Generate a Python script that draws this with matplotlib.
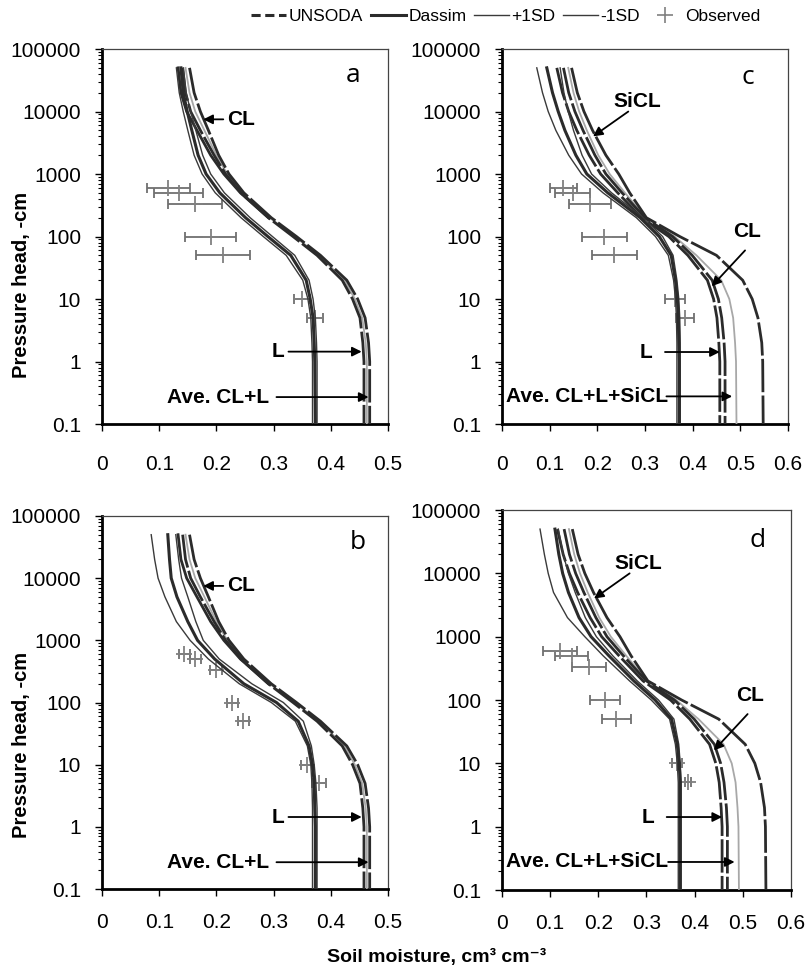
import matplotlib.pyplot as plt
from matplotlib.lines import Line2D
from matplotlib.ticker import LogLocator, FuncFormatter, NullFormatter

plt.rcParams['font.family'] = ['Liberation Sans', 'DejaVu Sans']

# pressure heads (cm) for every curve, dry end first
h = [50000, 20000, 10000, 5000, 2000, 1000, 500, 200, 100, 50, 20, 10, 5, 2, 1, 0.1]

# UNSODA curves used in a and b
uns_cl_ab = [0.153, 0.161, 0.172, 0.186, 0.204, 0.222, 0.248, 0.296, 0.340, 0.382, 0.428, 0.447, 0.460, 0.466, 0.468, 0.468]
uns_l_ab = [0.141, 0.146, 0.155, 0.172, 0.196, 0.216, 0.243, 0.291, 0.334, 0.376, 0.420, 0.438, 0.451, 0.456, 0.458, 0.458]
uns_ave_ab = [0.146, 0.153, 0.163, 0.179, 0.200, 0.219, 0.245, 0.293, 0.337, 0.379, 0.424, 0.442, 0.455, 0.461, 0.463, 0.463]
dassim_cl_ab = [0.133, 0.138, 0.148, 0.166, 0.190, 0.213, 0.242, 0.291]  # dry part only (50000..200)

# UNSODA curves used in c and d
uns_sicl_cd = [0.146, 0.158, 0.172, 0.190, 0.218, 0.245, 0.268, 0.303, 0.373, 0.450, 0.505, 0.525, 0.537, 0.545, 0.547, 0.548]
uns_cl_cd = [0.129, 0.140, 0.153, 0.170, 0.195, 0.218, 0.252, 0.300, 0.358, 0.399, 0.441, 0.454, 0.461, 0.466, 0.468, 0.468]
uns_l_cd = [0.115, 0.127, 0.140, 0.157, 0.183, 0.207, 0.243, 0.293, 0.350, 0.390, 0.431, 0.444, 0.451, 0.455, 0.457, 0.457]
uns_ave_cd = [0.139, 0.150, 0.162, 0.178, 0.202, 0.226, 0.258, 0.302, 0.362, 0.408, 0.460, 0.477, 0.485, 0.489, 0.491, 0.492]

# Dassim estimates with +/- 1 SD
dassim_a = [0.138, 0.142, 0.149, 0.157, 0.168, 0.182, 0.206, 0.251, 0.290, 0.330, 0.357, 0.364, 0.369, 0.371, 0.372, 0.373]
lo_a = [0.130, 0.135, 0.142, 0.150, 0.161, 0.175, 0.198, 0.243, 0.282, 0.322, 0.351, 0.360, 0.365, 0.367, 0.368, 0.368]
hi_a = [0.142, 0.147, 0.155, 0.164, 0.176, 0.190, 0.214, 0.259, 0.298, 0.337, 0.362, 0.369, 0.373, 0.375, 0.376, 0.376]

dassim_b = [0.115, 0.118, 0.121, 0.131, 0.150, 0.167, 0.197, 0.248, 0.305, 0.343, 0.362, 0.368, 0.371, 0.372, 0.373, 0.373]
lo_b = [0.086, 0.092, 0.098, 0.110, 0.130, 0.154, 0.186, 0.240, 0.296, 0.338, 0.359, 0.365, 0.367, 0.368, 0.368, 0.368]
hi_b = [0.129, 0.134, 0.139, 0.150, 0.164, 0.177, 0.205, 0.262, 0.317, 0.352, 0.366, 0.371, 0.374, 0.376, 0.376, 0.376]

dassim_c = [0.094, 0.106, 0.118, 0.132, 0.155, 0.178, 0.222, 0.290, 0.330, 0.355, 0.364, 0.368, 0.370, 0.371, 0.372, 0.372]
lo_c = [0.073, 0.085, 0.097, 0.113, 0.140, 0.167, 0.212, 0.282, 0.322, 0.349, 0.360, 0.364, 0.366, 0.367, 0.367, 0.367]
hi_c = [0.122, 0.130, 0.139, 0.150, 0.168, 0.188, 0.230, 0.296, 0.337, 0.359, 0.367, 0.371, 0.373, 0.374, 0.374, 0.374]

dassim_d = [0.110, 0.118, 0.126, 0.138, 0.160, 0.185, 0.222, 0.274, 0.318, 0.352, 0.364, 0.368, 0.370, 0.370, 0.370, 0.370]
lo_d = [0.079, 0.088, 0.096, 0.107, 0.136, 0.172, 0.210, 0.265, 0.310, 0.348, 0.360, 0.364, 0.366, 0.366, 0.366, 0.366]
hi_d = [0.117, 0.127, 0.138, 0.152, 0.173, 0.196, 0.230, 0.281, 0.325, 0.357, 0.367, 0.370, 0.372, 0.372, 0.372, 0.372]

# observed moisture (mean and SD) at measured heads
obs_h = [600, 500, 330, 100, 50, 10, 5]
obs_a = [0.116, 0.134, 0.163, 0.190, 0.211, 0.349, 0.372]
err_a = [0.037, 0.043, 0.047, 0.045, 0.047, 0.014, 0.014]
obs_b = [0.144, 0.163, 0.199, 0.228, 0.247, 0.358, 0.380]
err_b = [0.010, 0.010, 0.010, 0.010, 0.010, 0.010, 0.012]
obs_c = [0.129, 0.148, 0.185, 0.215, 0.236, 0.363, 0.384]
err_c = [0.029, 0.037, 0.044, 0.047, 0.047, 0.022, 0.019]
obs_d = [0.120, 0.145, 0.181, 0.214, 0.237, 0.363, 0.387]
err_d = [0.035, 0.034, 0.035, 0.031, 0.030, 0.010, 0.006]

DARK = '#2b2b2b'
THIN = '#3a3a3a'
GREY = '#a8a8a8'
OBS = '#808080'


def setup_axes(ax, xmax, xpad):
    ax.set_yscale('log')
    ax.set_ylim(0.1, 100000)
    ax.set_xlim(0, xmax)
    ax.set_xticks([i / 10 for i in range(int(round(xmax * 10)) + 1)])
    ax.xaxis.set_major_formatter(FuncFormatter(lambda v, p: '%g' % round(v, 2)))
    ax.yaxis.set_major_locator(LogLocator(base=10, numticks=10))
    ax.yaxis.set_minor_locator(LogLocator(base=10, subs=range(2, 10), numticks=20))
    ax.yaxis.set_major_formatter(FuncFormatter(lambda v, p: '%g' % v))
    ax.yaxis.set_minor_formatter(NullFormatter())
    ax.tick_params(axis='y', which='major', direction='out', length=5, width=1, labelsize=15, pad=10)
    ax.tick_params(axis='y', which='minor', direction='out', length=3, width=0.8)
    ax.tick_params(axis='x', direction='out', length=5, width=1, labelsize=15, pad=xpad)
    ax.tick_params(top=False, right=False)
    for side in ['left', 'bottom']:
        ax.spines[side].set_linewidth(2)
    for side in ['top', 'right']:
        ax.spines[side].set_linewidth(0.9)
        ax.spines[side].set_color('#444444')


def draw_curves(ax, dassim, lo, hi, unsoda, ave, obs, err, extra=None):
    ax.errorbar(obs, obs_h, xerr=err, fmt='+', color=OBS, ecolor='#707070', ms=11, mew=1.3,
                elinewidth=1.3, capsize=3.5, capthick=1.3, zorder=2)
    ax.plot(ave, h, color=GREY, lw=1.3, zorder=3)
    for curve in unsoda:
        ax.plot(curve, h, color=DARK, lw=2, dashes=(12, 1.2), zorder=4)
    if extra is not None:
        ax.plot(extra, h[:len(extra)], color=DARK, lw=2, zorder=4)
    ax.plot(lo, h, color=THIN, lw=1.0, zorder=4)
    ax.plot(hi, h, color=THIN, lw=1.0, zorder=4)
    ax.plot(dassim, h, color=DARK, lw=2.2, zorder=5)


def note(ax, text, pos, tail, tip, ha='left'):
    ax.text(pos[0], pos[1], text, ha=ha, va='center', fontsize=15, fontweight='bold', zorder=6)
    ax.annotate('', xy=tip, xytext=tail,
                arrowprops=dict(arrowstyle='-|>', color='black', lw=1.3, mutation_scale=14,
                                shrinkA=0, shrinkB=0), zorder=7)


fig = plt.figure(figsize=(8.09, 9.73), dpi=100)
ax_a = fig.add_axes([0.1261, 0.5642, 0.3535, 0.3854])
ax_c = fig.add_axes([0.6205, 0.5642, 0.3535, 0.3854])
ax_b = fig.add_axes([0.1261, 0.0863, 0.3535, 0.3834])
ax_d = fig.add_axes([0.6205, 0.0853, 0.3572, 0.3905])

setup_axes(ax_a, 0.5, 17)
setup_axes(ax_c, 0.6, 17)
setup_axes(ax_b, 0.5, 12)
setup_axes(ax_d, 0.6, 12)

draw_curves(ax_a, dassim_a, lo_a, hi_a, [uns_cl_ab, uns_l_ab], uns_ave_ab, obs_a, err_a, dassim_cl_ab)
draw_curves(ax_b, dassim_b, lo_b, hi_b, [uns_cl_ab, uns_l_ab], uns_ave_ab, obs_b, err_b, dassim_cl_ab)
draw_curves(ax_c, dassim_c, lo_c, hi_c, [uns_sicl_cd, uns_cl_cd, uns_l_cd], uns_ave_cd, obs_c, err_c)
draw_curves(ax_d, dassim_d, lo_d, hi_d, [uns_sicl_cd, uns_cl_cd, uns_l_cd], uns_ave_cd, obs_d, err_d)

# soil class labels
for ax in [ax_a, ax_b]:
    note(ax, 'CL', (0.218, 7500), (0.212, 7500), (0.177, 7500))
    note(ax, 'L', (0.297, 1.44), (0.326, 1.44), (0.454, 1.44))
    note(ax, 'Ave. CL+L', (0.114, 0.27), (0.305, 0.27), (0.466, 0.27))
for ax in [ax_c, ax_d]:
    note(ax, 'SiCL', (0.283, 14400), (0.265, 10000), (0.191, 4000), ha='center')
    note(ax, 'CL', (0.515, 120), (0.510, 60), (0.440, 16), ha='center')
    note(ax, 'L', (0.303, 1.42), (0.342, 1.42), (0.457, 1.42), ha='center')
    note(ax, 'Ave. CL+L+SiCL', (0.008, 0.277), (0.345, 0.277), (0.483, 0.277))

for ax, letter, x, y in [(ax_a, 'a', 0.877, 0.93), (ax_c, 'c', 0.86, 0.925),
                         (ax_b, 'b', 0.895, 0.93), (ax_d, 'd', 0.886, 0.92)]:
    ax.text(x, y, letter, transform=ax.transAxes, ha='center', va='center', fontsize=19,
            family=['Open Sans', 'DejaVu Sans'])

fig.text(0.027, 1 - 285 / 973, 'Pressure head, -cm', rotation=90, ha='center', va='center',
         fontsize=14.5, fontweight='bold')
fig.text(0.027, 1 - 745 / 973, 'Pressure head, -cm', rotation=90, ha='center', va='center',
         fontsize=14.5, fontweight='bold')
fig.text(437 / 809, 1 - 957 / 973, 'Soil moisture, cm\u00b3 cm\u207b\u00b3',
         ha='center', va='center', fontsize=14, fontweight='bold')

handles = [
    Line2D([], [], color=DARK, lw=2.2, dashes=(3, 1.5)),
    Line2D([], [], color=DARK, lw=2.2),
    Line2D([], [], color=THIN, lw=1.0),
    Line2D([], [], color=THIN, lw=1.0),
    Line2D([], [], color=OBS, marker='+', ms=11, mew=1.2, ls='none'),
]
fig.legend(handles, ['UNSODA', 'Dassim', '+1SD', '-1SD', 'Observed'], loc='center',
           bbox_to_anchor=(506 / 809, 1 - 16 / 973), ncol=5, frameon=False, fontsize=12.5,
           handlelength=2.0, handletextpad=0.15, columnspacing=0.45, borderpad=0)

fig.savefig('out.png', dpi=100)
